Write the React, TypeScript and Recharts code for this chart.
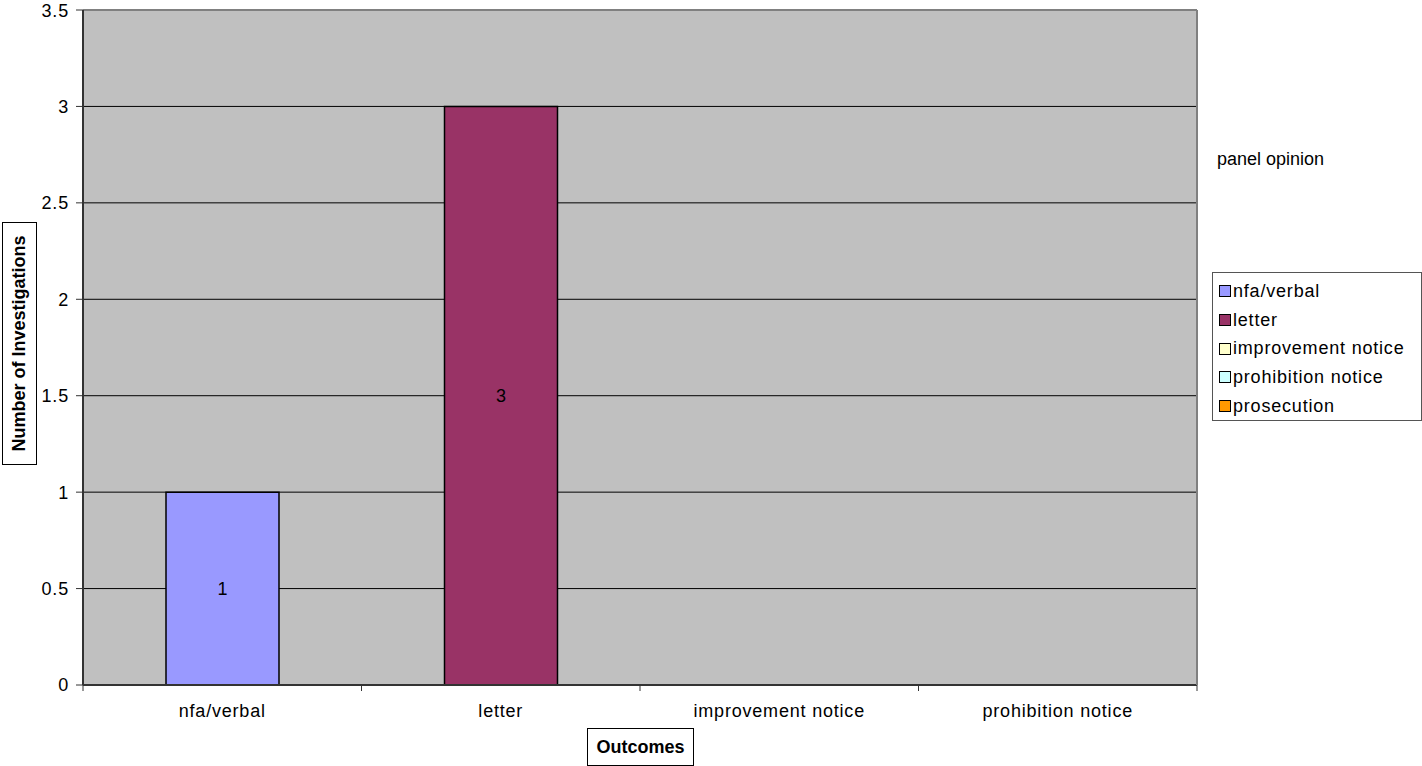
import { Bar, BarChart, CartesianGrid, Cell, LabelList, ReferenceLine, XAxis, YAxis } from 'recharts';

const FONT = '"Liberation Sans", Arial, sans-serif';
const PLOT_BG = '#c0c0c0';

const categories = ['nfa/verbal', 'letter', 'improvement notice', 'prohibition notice'];
const counts = [1, 3, 0, 0];
const barColors = ['#9999ff', '#993366', '#ffffcc', '#ccffff'];

const legendNames = ['nfa/verbal', 'letter', 'improvement notice', 'prohibition notice', 'prosecution'];
const legendColors = ['#9999ff', '#993366', '#ffffcc', '#ccffff', '#ff9900'];

const yTicks = [0, 0.5, 1, 1.5, 2, 2.5, 3, 3.5];

const data = categories.map((name, i) => ({ name, count: counts[i] }));

const tickStyle = { fill: '#000', fontSize: 18, letterSpacing: 0.8 };

// Excel-style category axis: tick marks sit between categories, label in the middle
function CategoryTick(props: any) {
  const { x, y, payload, index, width, visibleTicksCount } = props;
  const half = payload.offset || width / visibleTicksCount / 2;
  return (
    <g>
      <line x1={x - half} x2={x - half} y1={y} y2={y + 6} stroke="#333" />
      {index === visibleTicksCount - 1 && <line x1={x + half} x2={x + half} y1={y} y2={y + 6} stroke="#333" />}
      <text x={x} y={y + 19} dy="0.71em" textAnchor="middle" {...tickStyle}>
        {payload.value}
      </text>
    </g>
  );
}

export default function App() {
  return (
    <div style={{ position: 'absolute', left: 0, top: 0, width: 1422, height: 766, fontFamily: FONT, background: '#fff' }}>
      <BarChart width={1422} height={766} data={data} margin={{ top: 10, right: 224, left: 23, bottom: 51 }}>
        <CartesianGrid vertical={false} stroke="#000" fill={PLOT_BG} fillOpacity={1} />
        <XAxis dataKey="name" height={30} tickSize={0} tickMargin={0} tickLine={false} axisLine={{ stroke: '#333', strokeWidth: 2 }} tick={CategoryTick} interval={0} />
        <YAxis
          width={60}
          domain={[0, 3.5]}
          ticks={yTicks}
          tickSize={7}
          tickMargin={7}
          axisLine={{ stroke: '#333', strokeWidth: 2 }}
          tickLine={{ stroke: '#333' }}
          tick={tickStyle}
        />
        <YAxis yAxisId="frame" orientation="right" width={1} domain={[0, 3.5]} tick={false} tickLine={false} axisLine={{ stroke: '#808080', strokeWidth: 2 }} />
        <ReferenceLine y={3.5} stroke="#808080" strokeWidth={2} />
        <Bar dataKey="count" barSize={113} stroke="#000" strokeWidth={1.5} isAnimationActive={false}>
          {data.map((d, i) => (
            <Cell key={d.name} fill={barColors[i]} />
          ))}
          <LabelList dataKey="count" position="center" fill="#000" fontSize={18} formatter={(v: any) => (v ? v : '')} />
        </Bar>
      </BarChart>

      {/* axis titles */}
      <div
        style={{
          position: 'absolute',
          left: 2,
          top: 222,
          width: 35,
          height: 243,
          border: '1px solid #000',
          boxSizing: 'border-box',
          display: 'flex',
          alignItems: 'center',
          justifyContent: 'center',
        }}
      >
        <span style={{ transform: 'rotate(-90deg)', whiteSpace: 'nowrap', fontWeight: 'bold', fontSize: 18 }}>Number of Investigations</span>
      </div>
      <div
        style={{
          position: 'absolute',
          left: 587,
          top: 728,
          width: 107,
          height: 38,
          border: '1px solid #000',
          boxSizing: 'border-box',
          display: 'flex',
          alignItems: 'center',
          justifyContent: 'center',
          fontWeight: 'bold',
          fontSize: 18,
        }}
      >
        Outcomes
      </div>

      <div style={{ position: 'absolute', left: 1217, top: 149, fontSize: 18 }}>panel opinion</div>

      {/* legend */}
      <div
        style={{
          position: 'absolute',
          left: 1212,
          top: 272,
          width: 210,
          height: 149,
          border: '1px solid #555',
          boxSizing: 'border-box',
          padding: '4px 0 0 6px',
          background: '#fff',
        }}
      >
        {legendNames.map((name, i) => (
          <div key={name} style={{ display: 'flex', alignItems: 'center', height: 28.7, fontSize: 18, letterSpacing: 0.8 }}>
            <span style={{ width: 12, height: 12, border: '1.5px solid #000', background: legendColors[i], marginRight: 2, boxSizing: 'border-box' }} />
            {name}
          </div>
        ))}
      </div>
    </div>
  );
}
